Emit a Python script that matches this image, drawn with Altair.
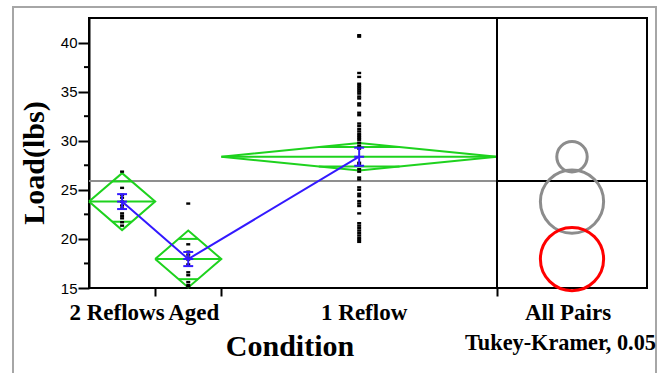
import altair as alt
import numpy as np
import pandas as pd

# ---- data -------------------------------------------------------------
groups = ["2 Reflows", "Aged", "1 Reflow"]
group_sizes = [12, 12, 50]
group_means = [23.8, 17.95, 28.37]
ci_half = [2.9, 2.9, 1.4]          # 95% confidence half-width (diamonds)
std_err = [0.76, 0.72, 0.92]       # standard error bars
circle_radius = [3.22, 3.22, 1.55]  # Tukey-Kramer comparison circles
circle_color = ["#8c8c8c", "#ff0000", "#8c8c8c"]
grand_mean = 25.9

loads_2_reflows = [26.85, 25.2, 24.5, 24.2, 23.8, 23.4, 23.1, 22.6, 22.35, 22.1, 21.7, 21.35]
loads_aged = [23.6, 19.45, 18.7, 18.4, 18.1, 17.9, 17.4, 16.6, 16.3, 15.6, 15.3, 15.15]
loads_1_reflow = [
    40.75, 40.6, 36.9, 36.5, 35.8, 35.6, 35.4, 35.2, 35.0, 34.8,
    34.5, 34.3, 33.8, 33.6, 32.85, 32.6, 31.75, 31.5, 31.2, 30.95,
    30.7, 30.5, 30.3, 30.1, 29.8, 29.5, 29.2, 27.75, 27.5, 27.1,
    26.85, 26.25, 26.05, 25.25, 25.0, 24.6, 24.35, 23.85, 23.6, 23.35,
    22.6, 21.6, 21.35, 21.1, 20.85, 20.6, 20.35, 20.1, 19.9, 19.7,
]
group_loads = [loads_2_reflows, loads_aged, loads_1_reflow]

y_ticks = [15, 20, 25, 30, 35, 40]
y_minor_ticks = [17.5, 22.5, 27.5, 32.5, 37.5]

# ---- geometry ---------------------------------------------------------
W, H = 558, 270                 # plot area incl. comparison-circle panel
MAIN_PX = 408                   # width of the one-way plot part
Y_MIN, Y_MAX = 15, 42.5
main_units = sum(group_sizes)
X_MAX = main_units * W / MAIN_PX
px_per_y = H / (Y_MAX - Y_MIN)
panel_center = (main_units + X_MAX) / 2

starts = np.cumsum([0] + group_sizes[:-1]).astype(float)
ends = starts + np.array(group_sizes)
centers = (starts + ends) / 2

GREEN = "#1ed21e"
BLUE = "#3319ff"
SERIF = "Liberation Serif"

x_scale = alt.Scale(domain=[0, X_MAX], nice=False, zero=False)
y_scale = alt.Scale(domain=[Y_MIN, Y_MAX], nice=False, zero=False)
x_axis = alt.Axis(values=[12, 24, main_units], labels=False, title=None, tickSize=8,
                  tickWidth=2, tickColor="black", domain=False, grid=False)
y_axis = alt.Axis(values=y_ticks, title=None, labelFont="Liberation Sans", labelFontSize=15,
                  labelColor="black", labelPadding=1, tickSize=11, tickWidth=2,
                  tickColor="black", domainColor="black", domainWidth=2, grid=False)


def X(field="x"):
    return alt.X(f"{field}:Q", scale=x_scale, axis=x_axis)


def Y(field="y"):
    return alt.Y(f"{field}:Q", scale=y_scale, axis=y_axis)


# ---- tables -----------------------------------------------------------
points = pd.DataFrame(
    [{"x": c, "y": v} for c, vals in zip(centers, group_loads) for v in vals]
)

diamond_rows = []
seg = 0
k = 1 - 1 / np.sqrt(2)
for s, e, c, m, h in zip(starts, ends, centers, group_means, ci_half):
    poly = [(s, m), (c, m + h), (e, m), (c, m - h), (s, m)]
    for o, (px, py) in enumerate(poly):
        diamond_rows.append({"x": px, "y": py, "seg": seg, "ord": o})
    seg += 1
    for o, px in enumerate([s, e]):
        diamond_rows.append({"x": px, "y": m, "seg": seg, "ord": o})
    seg += 1
    hw = (e - s) / 2 * k
    for sign in (1, -1):
        yy = m + sign * h / np.sqrt(2)
        for o, px in enumerate([c - hw, c + hw]):
            diamond_rows.append({"x": px, "y": yy, "seg": seg, "ord": o})
        seg += 1
diamonds = pd.DataFrame(diamond_rows)

means = pd.DataFrame({"x": centers, "y": group_means,
                      "lo": np.array(group_means) - np.array(std_err),
                      "hi": np.array(group_means) + np.array(std_err)})
cap = 0.9
caps = pd.DataFrame(
    [{"x": c - cap, "x2": c + cap, "y": yy}
     for c, m, se in zip(centers, group_means, std_err) for yy in (m - se, m, m + se)]
)

circles = pd.DataFrame({
    "x": [panel_center] * 3,
    "y": group_means,
    "size": [(2 * r * px_per_y) ** 2 for r in circle_radius],
    "color": circle_color,
})

mean_lines = pd.DataFrame({"x": [0, main_units], "x2": [main_units, X_MAX],
                           "y": [grand_mean, grand_mean], "c": ["#8f8f8f", "black"]})
divider = pd.DataFrame({"x": [main_units], "y": [Y_MIN], "y2": [Y_MAX]})
minor = pd.DataFrame({"y": y_minor_ticks})
one = pd.DataFrame({"a": [1]})

# ---- layers -----------------------------------------------------------
frame = alt.Chart(one).mark_rect(fill=None, stroke="#a6a6a6", strokeWidth=2).encode(
    x=alt.value(-76), x2=alt.value(567), y=alt.value(-11), y2=alt.value(420))

grand = alt.Chart(mean_lines).mark_rule(strokeWidth=2).encode(
    x=X(), x2="x2:Q", y=Y(), color=alt.Color("c:N", scale=None))

div = alt.Chart(divider).mark_rule(color="black", strokeWidth=2).encode(
    x=X(), y=Y(), y2="y2:Q")

minor_ticks = alt.Chart(minor).mark_rule(color="black", strokeWidth=2).encode(
    y=Y(), x=alt.value(-5), x2=alt.value(0))

diamond_layer = alt.Chart(diamonds).mark_line(color=GREEN, strokeWidth=2).encode(
    x=X(), y=Y(), detail="seg:N", order="ord:Q")

point_layer = alt.Chart(points).mark_point(
    shape="M-1,-0.6H1V0.6H-1Z", size=16, filled=True, color="black", opacity=1, strokeWidth=0
).encode(x=X(), y=Y())

mean_line = alt.Chart(means).mark_line(color=BLUE, strokeWidth=2).encode(x=X(), y=Y())
err_bars = alt.Chart(means).mark_rule(color=BLUE, strokeWidth=2).encode(
    x=X(), y=Y("lo"), y2="hi:Q")
err_caps = alt.Chart(caps).mark_rule(color=BLUE, strokeWidth=2).encode(
    x=X(), x2="x2:Q", y=Y())

circle_layer = alt.Chart(circles).mark_point(shape="circle", filled=False, strokeWidth=3, opacity=1).encode(
    x=X(), y=Y(), size=alt.Size("size:Q", scale=None, legend=None),
    color=alt.Color("color:N", scale=None))

label_style = dict(font=SERIF, fontWeight="bold", fontSize=23, color="black",
                   align="center", baseline="alphabetic")
cat_labels = []
for name, c, dx in zip(groups, centers, [-5, 5.5, 5]):
    cat_labels.append(
        alt.Chart(pd.DataFrame({"x": [c], "t": [name]})).mark_text(dx=dx, **label_style).encode(
            x=X(), y=alt.value(302), text="t:N"))

all_pairs = alt.Chart(one).mark_text(text="All Pairs", **label_style).encode(
    x=alt.value(479), y=alt.value(302))
tukey = alt.Chart(one).mark_text(text="Tukey-Kramer, 0.05", font=SERIF, fontWeight="bold",
                                 fontSize=22.3, color="black", align="left",
                                 baseline="alphabetic").encode(
    x=alt.value(376), y=alt.value(332))
x_title = alt.Chart(one).mark_text(text="Condition", font=SERIF, fontWeight="bold", fontSize=30,
                                   color="black", align="center", baseline="alphabetic").encode(
    x=alt.value(201), y=alt.value(338))
y_title = alt.Chart(one).mark_text(text="Load(lbs)", font=SERIF, fontWeight="bold", fontSize=30,
                                   color="black", align="center", baseline="alphabetic",
                                   angle=270).encode(
    x=alt.value(-45.5), y=alt.value(145))

chart = alt.layer(
    frame, grand, diamond_layer, point_layer, mean_line, err_bars, err_caps,
    circle_layer, div, minor_ticks, *cat_labels, all_pairs, tukey, x_title, y_title,
).properties(
    width=W, height=H,
    background="white",
    autosize=alt.AutoSizeParams(type="none"),
    padding={"left": 89, "top": 18, "right": 18, "bottom": 85},
).configure_view(stroke="black", strokeWidth=2)

chart.save("out.html", embed_options={"renderer": "svg", "actions": False})
